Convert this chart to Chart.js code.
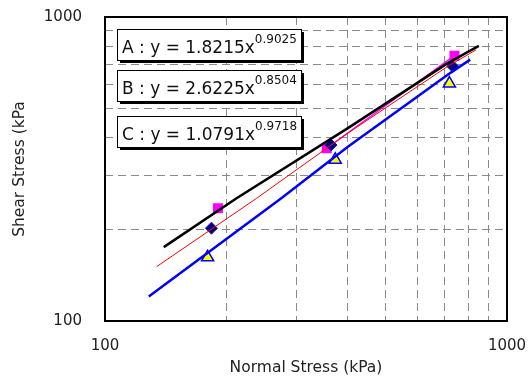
<!DOCTYPE html>
<html>
<head>
<meta charset="utf-8">
<script src="https://cdn.jsdelivr.net/npm/chart.js@4"></script>
<style>
  html, body { margin: 0; padding: 0; background: #fff; }
  #wrap { width: 530px; height: 381px; }
</style>
</head>
<body>
<div id="wrap"><canvas id="chart"></canvas></div>
<script>
// axis ticks
const tickValues = [100, 200, 300, 400, 500, 600, 700, 800, 900, 1000];
const tickLabels = ['100', '', '', '', '', '', '', '', '', '1000'];

// measured points
const squareX = [191, 356, 740];
const squareY = [235, 370, 746];
const diamondX = [184, 365, 733];
const diamondY = [202, 379, 688];
const triangleX = [180, 374, 719];
const triangleY = [162, 339, 604];

// fitted lines
const blackX = [140, 212, 402, 712, 851];
const blackY = [175, 253, 431, 705, 804];
const redX = [134.5, 238, 402, 712, 838];
const redY = [151, 253, 415, 688, 780];
const blueX = [128.5, 274, 402, 712, 810];
const blueY = [120.5, 253, 374, 646, 724];

// equation boxes
const fitNames = ['A : y = 1.8215x', 'B : y = 2.6225x', 'C : y = 1.0791x'];
const fitPowers = ['0.9025', '0.8504', '0.9718'];

function pts(xs, ys) {
  return xs.map((x, i) => ({ x: x, y: ys[i] }));
}

const FONT = 'DejaVu Sans';

const frame = {
  id: 'frame',
  beforeDatasetsDraw(chart) {
    const { ctx, chartArea: a } = chart;
    ctx.save();
    ctx.strokeStyle = '#000';
    ctx.lineWidth = 2;
    ctx.strokeRect(a.left, a.top, a.right - a.left, a.bottom - a.top);
    ctx.restore();
  },
  afterDraw(chart) {
    const { ctx } = chart;
    const tops = [29, 70, 116];
    ctx.save();
    tops.forEach((top, i) => {
      const left = 117, w = 184, h = 31;
      ctx.fillStyle = '#000';
      ctx.fillRect(left + 3, top + 3, w, h);
      ctx.fillStyle = '#fff';
      ctx.fillRect(left, top, w, h);
      ctx.strokeStyle = '#000';
      ctx.lineWidth = 1;
      ctx.strokeRect(left + 0.5, top + 0.5, w, h);
      ctx.fillStyle = '#111';
      ctx.textBaseline = 'alphabetic';
      ctx.font = '17px "' + FONT + '"';
      ctx.fillText(fitNames[i], 122, top + 23.5);
      const tw = ctx.measureText(fitNames[i]).width;
      ctx.font = '12px "' + FONT + '"';
      ctx.fillText(fitPowers[i], 122 + tw, top + 14);
    });
    ctx.restore();
  }
};

const gridColor = c => (c.index === 0 || c.index === tickValues.length - 1) ? 'rgba(0,0,0,0)' : '#8a8a8a';

new Chart(document.getElementById('chart'), {
  type: 'scatter',
  data: {
    datasets: [
      {
        data: pts(blackX, blackY),
        showLine: true,
        borderColor: '#000',
        borderWidth: 2.5,
        pointRadius: 0,
        order: 1,
      },
      {
        data: pts(blueX, blueY),
        showLine: true,
        borderColor: '#0000ff',
        borderWidth: 2.5,
        pointRadius: 0,
        order: 2,
      },
      {
        data: pts(redX, redY),
        showLine: true,
        borderColor: '#ff0000',
        borderWidth: 1,
        pointRadius: 0,
        order: 3,
      },
      {
        data: pts(triangleX, triangleY),
        pointStyle: 'triangle',
        pointRadius: 7,
        backgroundColor: '#ffff00',
        borderColor: '#0000ff',
        borderWidth: 1.5,
        order: 4,
      },
      {
        data: pts(diamondX, diamondY),
        pointStyle: 'rectRot',
        pointRadius: 6,
        backgroundColor: '#000080',
        borderColor: '#1a1a90',
        borderWidth: 1,
        order: 5,
      },
      {
        data: pts(squareX, squareY),
        showLine: true,
        pointStyle: 'rect',
        pointRadius: 6,
        backgroundColor: '#ff00ff',
        borderColor: '#ff00ff',
        borderWidth: 1.5,
        segment: {
          borderColor: c => c.p0DataIndex === 0 ? 'rgba(0,0,0,0)' : '#ff00ff',
        },
        order: 6,
      },
    ],
  },
  options: {
    responsive: true,
    maintainAspectRatio: false,
    animation: false,
    layout: { padding: { left: 0, right: 23, top: 17, bottom: 0 } },
    plugins: {
      legend: { display: false },
      tooltip: { enabled: false },
    },
    scales: {
      x: {
        type: 'logarithmic',
        min: 100,
        max: 1000,
        afterBuildTicks: s => { s.ticks = tickValues.map(v => ({ value: v })); },
        afterFit: s => { s.height = 60; s.paddingLeft = 0; s.paddingRight = 0; },
        border: { display: false, dash: [8, 5] },
        grid: { color: gridColor, drawTicks: false, lineWidth: 1 },
        ticks: {
          autoSkip: false,
          maxRotation: 0,
          padding: 16,
          color: '#222',
          font: { family: FONT, size: 15 },
          callback: (v, i) => tickLabels[i],
        },
        title: {
          display: true,
          text: 'Normal Stress (kPa)',
          color: '#222',
          font: { family: FONT, size: 15.5 },
          padding: { top: 0, bottom: 4 },
        },
      },
      y: {
        type: 'logarithmic',
        min: 100,
        max: 1000,
        afterBuildTicks: s => { s.ticks = tickValues.map(v => ({ value: v })); },
        afterFit: s => { s.width = 105; s.paddingTop = 0; s.paddingBottom = 0; },
        border: { display: false, dash: [8, 5] },
        grid: { color: gridColor, drawTicks: false, lineWidth: 1 },
        ticks: {
          autoSkip: false,
          padding: 23,
          color: '#222',
          font: { family: FONT, size: 15 },
          callback: (v, i) => tickLabels[i],
        },
        title: {
          display: true,
          text: 'Shear Stress (kPa',
          color: '#222',
          font: { family: FONT, size: 15.5 },
          padding: { top: 11, bottom: 0 },
        },
      },
    },
  },
  plugins: [frame],
});
</script>
</body>
</html>
